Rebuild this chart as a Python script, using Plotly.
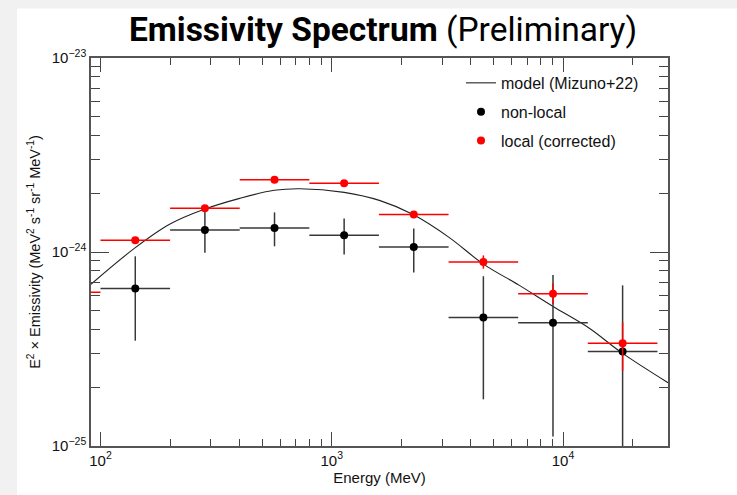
import numpy as np
import plotly.graph_objects as go

# ---------------- data ----------------
bin_edges = [50, 100, 200, 400, 800, 1600, 3200, 6400, 12800, 25600]

# non-local (black) : bins 100-25600
black_y = [6.49e-25, 1.30e-24, 1.33e-24, 1.22e-24, 1.06e-24, 4.60e-25, 4.32e-25, 3.07e-25]
black_hi = [9.5e-25, 1.68e-24, 1.60e-24, 1.49e-24, 1.32e-24, 7.5e-25, 7.6e-25, 6.73e-25]
black_lo = [3.49e-25, 9.9e-25, 1.07e-24, 9.7e-25, 7.83e-25, 1.74e-25, 1.12e-25, 5.0e-26]

# local corrected (red) : bins 50-25600
red_y = [6.2e-25, 1.15e-24, 1.68e-24, 2.36e-24, 2.26e-24, 1.56e-24, 8.89e-25, 6.10e-25, 3.39e-25]
red_hi = [6.4e-25, 1.19e-24, 1.74e-24, 2.44e-24, 2.34e-24, 1.61e-24, 9.6e-25, 6.89e-25, 4.34e-25]
red_lo = [6.0e-25, 1.11e-24, 1.62e-24, 2.28e-24, 2.18e-24, 1.51e-24, 8.2e-25, 5.4e-25, 2.44e-25]

# model (Mizuno+22)
model_E = [91, 141, 199, 281, 400, 564, 729, 1132, 1619, 2248, 3215, 4510, 6450, 9060, 12950, 17980, 28450]
model_y = [6.82e-25, 1.05e-24, 1.39e-24, 1.66e-24, 1.89e-24, 2.08e-24, 2.12e-24, 2.03e-24,
           1.84e-24, 1.56e-24, 1.19e-24, 8.69e-25, 6.75e-25, 5.24e-25, 4.06e-25, 3.02e-25, 2.12e-25]

x_tickvals = [100, 1000, 10000]
x_ticktext = ["10<sup>2</sup>", "10<sup>3</sup>", "10<sup>4</sup>"]
y_tickvals = [1e-25, 1e-24, 1e-23]
y_ticktext = ["10<sup>\u221225</sup>", "10<sup>\u221224</sup>", "10<sup>\u221223</sup>"]

# ---------------- derived ----------------
edges = np.array(bin_edges, dtype=float)
lo_e, hi_e = edges[:-1], edges[1:]
centers = np.sqrt(lo_e * hi_e)

red_x = centers
black_x = centers[1:]

def xerr(c, lo, hi):
    return (hi - c), (c - lo)

rxp, rxm = xerr(red_x, lo_e, hi_e)
bxp, bxm = xerr(black_x, lo_e[1:], hi_e[1:])

by = np.array(black_y); ry = np.array(red_y)
byp = np.array(black_hi) - by; bym = by - np.array(black_lo)
ryp = np.array(red_hi) - ry; rym = ry - np.array(red_lo)

FONT = "Liberation Sans, Arial, Helvetica, sans-serif"
ERRC_B = "#383838"
ERRC_R = "#ff0000"

fig = go.Figure()

# white sheet on light gray background (screenshot look)
plot_l, plot_r, plot_t, plot_b = 91, 668, 58, 449
W, H = 737, 495
pw, ph = plot_r - plot_l, plot_b - plot_t
fig.add_shape(type="rect", xref="paper", yref="paper",
              x0=(17 - plot_l) / pw, x1=(W + 5 - plot_l) / pw,
              y0=(plot_b - (H + 5)) / ph, y1=(plot_b - 8) / ph,
              fillcolor="white", line=dict(width=0), layer="below")

fig.add_trace(go.Scatter(x=model_E, y=model_y, mode="lines",
                         line=dict(color="#222222", width=1.1, shape="spline", smoothing=1.0),
                         showlegend=False, hoverinfo="skip"))

fig.add_trace(go.Scatter(
    x=black_x, y=black_y, mode="markers",
    marker=dict(color="black", size=8),
    error_x=dict(type="data", symmetric=False, array=bxp, arrayminus=bxm, color=ERRC_B, thickness=1.5, width=0),
    error_y=dict(type="data", symmetric=False, array=byp, arrayminus=bym, color=ERRC_B, thickness=1.5, width=0),
    showlegend=False))

fig.add_trace(go.Scatter(
    x=red_x, y=red_y, mode="markers",
    marker=dict(color="#ff0000", size=8),
    error_x=dict(type="data", symmetric=False, array=rxp, arrayminus=rxm, color=ERRC_R, thickness=1.5, width=0),
    error_y=dict(type="data", symmetric=False, array=ryp, arrayminus=rym, color=ERRC_R, thickness=1.5, width=0),
    showlegend=False))

# legend entries
fig.add_trace(go.Scatter(x=[None], y=[None], mode="lines", line=dict(color="#222222", width=1.1),
                         name="model (Mizuno+22)", legendgroup="a"))
fig.add_trace(go.Scatter(x=[None], y=[None], mode="markers", marker=dict(color="black", size=8),
                         name="non-local", legendgroup="b"))
fig.add_trace(go.Scatter(x=[None], y=[None], mode="markers", marker=dict(color="#ff0000", size=8),
                         name="local (corrected)", legendgroup="c"))

x_minor = [m * 10 ** d for d in (1, 2, 3, 4) for m in range(2, 10)]
y_minor = [m * 10.0 ** d for d in (-25, -24) for m in range(2, 10)]

axis_common = dict(showline=True, linecolor="#555555", linewidth=1.5, mirror="allticks",
                   ticks="inside", tickcolor="#444444", tickwidth=1.2, showgrid=False, zeroline=False,
                   tickfont=dict(family=FONT, size=15, color="#111111"))

fig.update_xaxes(type="log", range=[np.log10(91), 4.454], tickmode="array",
                 tickvals=x_tickvals, ticktext=x_ticktext, ticklen=14,
                 minor=dict(tickvals=x_minor, ticks="inside", ticklen=7, tickcolor="#444444", tickwidth=1.2, showgrid=False),
                 title=dict(text="Energy (MeV)", font=dict(family=FONT, size=15, color="#111111"), standoff=4),
                 **axis_common)
fig.update_yaxes(type="log", range=[-25, -23], tickmode="array",
                 tickvals=y_tickvals, ticktext=y_ticktext, ticklen=18,
                 minor=dict(tickvals=y_minor, ticks="inside", ticklen=9, tickcolor="#444444", tickwidth=1.2, showgrid=False),
                 title=dict(text="E<sup>2</sup> \u00d7 Emissivity (MeV<sup>2</sup> s<sup>-1</sup> sr<sup>-1</sup> MeV<sup>-1</sup>)",
                            font=dict(family=FONT, size=14.5, color="#111111"), standoff=8),
                 **axis_common)

fig.update_layout(
    width=W, height=H, autosize=False,
    margin=dict(l=plot_l, r=W - plot_r, t=plot_t, b=H - plot_b, pad=0),
    paper_bgcolor="#f1f1f1", plot_bgcolor="white",
    title=dict(text="<b>Emissivity Spectrum</b> <span style='font-weight:normal'>(Preliminary)</span>",
               font=dict(family="Roboto, sans-serif", size=33.5, color="black"),
               x=383 / W, xref="container", xanchor="center",
               y=1 - 29 / H, yref="container", yanchor="middle"),
    legend=dict(x=(461 - plot_l) / pw, y=(plot_b - 66) / ph, xanchor="left", yanchor="top",
                bgcolor="rgba(0,0,0,0)", font=dict(family=FONT, size=16, color="#111111"),
                tracegroupgap=5, traceorder="grouped", itemwidth=30),
    showlegend=True,
)

fig.write_html("out.html")
